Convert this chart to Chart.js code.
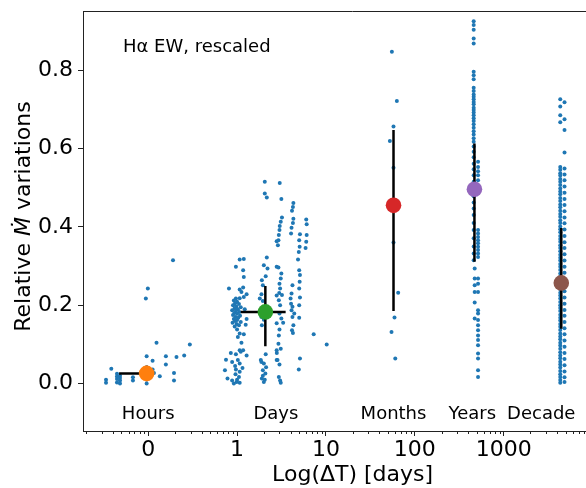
<!DOCTYPE html>
<html><head><meta charset="utf-8">
<script src="https://cdn.jsdelivr.net/npm/chart.js@4"></script>
<style>
html,body{margin:0;padding:0;overflow:hidden;background:#fff;}
#wrap{position:relative;width:630px;height:488px;}
</style></head><body>
<div id="wrap"><canvas id="c" width="630" height="488"></canvas></div>
<script>
// ---------- data ----------
const xMajor = [0.1, 1, 10, 100, 1000];
const xTickLabels = ['0', '1', '10', '100', '1000'];
const yTicks = [0, 0.2, 0.4, 0.6, 0.8];

const catLabels = ['Hours', 'Days', 'Months', 'Years', 'Decade'];
const catX = [0.1, 2.73, 57.6, 444, 2650];
const catY = -0.091;
const annotation = 'H\u03B1 EW, rescaled';
const yTitleParts = ['Relative ', '\u1E40', ' variations'];
const xTitle = 'Log(\u0394T) [days]';

const hoursPts = [[0.0335,0.010],[0.0335,0.002],[0.0384,0.038],[0.0445,0.025],[0.0445,0.012],[0.0445,0.003],[0.0445,0.018],
  [0.0481,0.020],[0.0481,0.008],[0.0481,0.0],[0.0481,0.014],[0.0673,0.008],[0.0673,0.016],[0.096,0.070],[0.096,0.0],
  [0.112,0.058],[0.112,0.036],[0.116,0.027],[0.124,0.104],[0.135,0.019],[0.158,0.070],[0.158,0.049],[0.195,0.008],
  [0.195,0.027],[0.208,0.068],[0.254,0.072],[0.294,0.100],[0.099,0.243],[0.094,0.217],[0.19,0.315]];

const daysPts = [[1.07,.317],[1.19,.318],[0.97,.298],[1.17,.289],[1.19,.272],[0.81,.243],[1.07,.240],[1.17,.245],[1.12,.234],
  [1.28,.228],[1.19,.221],[1.07,.218],[0.97,.217],[0.92,.212],[1.0,.209],[0.95,.205],[1.05,.203],[0.9,.2],[0.98,.197],[1.1,.195],
  [0.94,.192],[1.02,.19],[0.88,.187],[0.97,.185],[1.06,.183],[0.93,.18],[1.0,.178],[0.9,.175],[1.08,.173],[0.96,.17],[1.03,.168],
  [0.92,.165],[1.0,.162],[0.95,.16],[1.1,.157],[0.89,.155],[0.99,.152],[1.05,.149],[0.94,.146],[1.22,.19],[1.28,.165],[1.25,.15],
  [1.0,.138],[1.07,.128],[1.19,.126],[1.02,.119],[1.12,.104],[1.07,.085],[0.85,.078],[0.97,.075],[1.1,.081],[1.17,.085],[1.28,.072],
  [0.75,.061],[0.88,.055],[1.02,.06],[1.07,.051],[0.73,.034],[0.97,.036],[1.07,.03],[0.96,.024],[1.05,.017],[0.78,.013],[0.88,.008],
  [0.99,.004],[0.92,0.0],[1.07,.002],[1.0,.01],[0.95,.045],[1.15,.04],
  [2.05,.515],[2.05,.485],[2.16,.475],[2.16,.322],[2.0,.302],[2.2,.294],[2.1,.274],[1.9,.264],[1.95,.251],[1.88,.228],[1.8,.217],
  [1.95,.211],[1.88,.170],[2.0,.163],[1.9,.149],[2.1,.075],[1.88,.055],[2.0,.051],[2.12,.042],[1.95,.034],[2.08,.026],[1.9,.013],
  [2.0,.004],[1.95,.02],[2.05,.01],[1.85,.06],
  [2.79,.363],[2.79,.298],[2.79,.225],[2.79,.154],[2.79,.085],[2.79,.06],
  [3.02,.512],[3.15,.471],[3.2,.424],[3.1,.413],[3.02,.402],[3.0,.392],[2.95,.379],[2.92,.366],[2.88,.353],[2.92,.296],[3.15,.281],
  [3.1,.268],[3.0,.255],[3.05,.243],[2.98,.231],[3.2,.226],[2.95,.213],[3.05,.2],[3.0,.179],[3.15,.166],[3.3,.155],[3.0,.138],
  [2.95,.123],[2.92,.102],[3.1,.089],[2.8,.078],[2.85,.06],[3.0,.049],[2.95,.017],[3.05,.008],[3.1,.002],
  [4.3,.461],[4.25,.451],[4.15,.441],[4.3,.421],[4.25,.41],[4.1,.398],[4.05,.383],[4.2,.251],[4.1,.23],[4.0,.217],[4.05,.204],
  [4.2,.196],[4.1,.187],[4.4,.179],[4.2,.17],[4.3,.149],[4.15,.136],[4.25,.129],
  [6.0,.419],[6.07,.407],[5.1,.381],[6.07,.379],[5.0,.366],[6.0,.362],[5.06,.349],[5.9,.346],[4.95,.336],[4.85,.317],[5.0,.289],
  [5.1,.277],[5.06,.26],[5.0,.243],[5.1,.22],[5.0,.2],[5.0,.168],[5.1,.064],[4.95,.036],[7.28,.126],[10.2,.1]];

const monthsPts = [[55.2,.847],[62.8,.721],[57.6,.656],[52.4,.619],[57.6,.551],[57.6,.36],[65,.232],[59.1,.169],[54.7,.132],[60.3,.064]];

const yearsLeftY = [.925,.915,.903,.881,.868,.796,.787,.777,.755,.747,.738,.732,.726,.719,.713,.704,.698,.692,.685,.677,.67,.662,
  .653,.644,.636,.626,.617,.605,.592,.578,.561,.547,.532,.515,.478,.462,.447,.43,.41,.392,.371,.35,.332,.315];
const yearsMidY = [.294,.268,.251,.234,.207,.166];
const yearsRightY = [.566,.553,.542,.532,.519,.392,.383,.374,.366,.358,.349,.341,.332,.323,.268,.255,.234,.187,.179,.162,.149,
  .136,.123,.111,.098,.077,.064,.034,.017];
const yearsColX = [460, 472, 515];

const decadeLeftY = [.726,.707,.685,.667,.553,.546,.537,.531,.522,.515,.507,.498,.49,.483,.474,.466,.457,.45,.441,.433,.426,.417,
  .41,.401,.394,.386,.377,.369,.362,.353,.346,.338,.329,.321,.314,.305,.298,.29,.281,.273,.266,.249,.241,.232,.225,.217,.208,.2,
  .193,.185,.176,.168,.161,.152,.145,.137,.128,.12,.113,.104,.097,.089,.08,.072,.065,.056,.049,.041,.032,.024,.017,.009,.002];
const decadeRightY = [.718,.675,.647,.59,.549,.534,.519,.503,.487,.471,.456,.44,.424,.409,.393,.377,.361,.346,.33,.314,.298,
  .283,.267,.251,.236,.22,.204,.188,.173,.157,.141,.126,.11,.094,.078,.063,.047,.031,.016,.004];
const decadeColX = [4335, 4840];

const meanX = [0.096, 2.08, 57.6, 469, 4450];
const meanY = [0.026, 0.183, 0.455, 0.496, 0.257];
const xErrLo = [0.047, 1.10, 57.6, 469, 4450];
const xErrHi = [0.096, 3.52, 57.6, 469, 4450];
const yErrLo = [0.006, 0.095, 0.185, 0.311, 0.140];
const yErrHi = [0.046, 0.249, 0.647, 0.613, 0.397];
const markerColors = ['#ff7f0e', '#2ca02c', '#d62728', '#9467bd', '#8c564b'];

// ---------- build ----------
const toXY = p => ({x: p[0], y: p[1]});
const scatterPts = [].concat(
  hoursPts.map(toXY), daysPts.map(toXY), monthsPts.map(toXY),
  yearsLeftY.map(v => ({x: yearsColX[0], y: v})),
  yearsMidY.map(v => ({x: yearsColX[1], y: v})),
  yearsRightY.map(v => ({x: yearsColX[2], y: v})),
  decadeLeftY.map(v => ({x: decadeColX[0], y: v})),
  decadeRightY.map(v => ({x: decadeColX[1], y: v}))
);

const datasets = [];
meanX.forEach((mx, i) => {
  datasets.push({data: [{x: mx, y: meanY[i]}], pointRadius: 7.8, pointBackgroundColor: markerColors[i],
    pointBorderWidth: 0, order: 1});
});
meanX.forEach((mx, i) => {
  datasets.push({data: [{x: mx, y: yErrLo[i]}, {x: mx, y: yErrHi[i]}], showLine: true, pointRadius: 0,
    borderColor: '#000', borderWidth: 2.5, order: 2});
  if (xErrLo[i] !== xErrHi[i]) {
    datasets.push({data: [{x: xErrLo[i], y: meanY[i]}, {x: xErrHi[i], y: meanY[i]}], showLine: true, pointRadius: 0,
      borderColor: '#000', borderWidth: 2.5, order: 2});
  }
});
datasets.push({data: scatterPts, pointRadius: 2, pointBackgroundColor: '#1f77b4', pointBorderWidth: 0, order: 3});

const FONT = '"DejaVu Sans", sans-serif';

const decor = {
  id: 'decor',
  afterDraw(chart) {
    const {ctx, chartArea: a, scales: {x, y}} = chart;
    ctx.save();
    ctx.strokeStyle = '#222';
    ctx.lineWidth = 1;
    ctx.beginPath();
    ctx.moveTo(a.left, a.top + 0.5); ctx.lineTo(a.right, a.top + 0.5);
    ctx.moveTo(a.right - 0.5, a.top); ctx.lineTo(a.right - 0.5, a.bottom);
    for (let e = -2; e <= 4; e++) {
      for (let m = 2; m <= 9; m++) {
        const v = m * Math.pow(10, e);
        if (v < x.min || v > x.max) continue;
        const px = Math.round(x.getPixelForValue(v)) + 0.5;
        ctx.moveTo(px, a.bottom); ctx.lineTo(px, a.bottom + 3);
      }
    }
    ctx.stroke();
    ctx.fillStyle = '#000';
    ctx.font = '18px ' + FONT;
    ctx.textAlign = 'center';
    ctx.textBaseline = 'alphabetic';
    catLabels.forEach((t, i) => ctx.fillText(t, x.getPixelForValue(catX[i]), y.getPixelForValue(catY)));
    ctx.textAlign = 'left';
    ctx.fillText(annotation, a.left + 40, a.top + 41);
    // y title with italic M-dot
    const fonts = ['22px ' + FONT, 'italic 22px ' + FONT, '22px ' + FONT];
    let widths = yTitleParts.map((t, i) => { ctx.font = fonts[i]; return ctx.measureText(t).width; });
    const total = widths.reduce((s, w) => s + w, 0);
    ctx.translate(24, (a.top + a.bottom) / 2 - 4.5);
    ctx.rotate(-Math.PI / 2);
    ctx.textBaseline = 'middle';
    let cx = -total / 2;
    yTitleParts.forEach((t, i) => { ctx.font = fonts[i]; ctx.fillText(t, cx, 0); cx += widths[i]; });
    ctx.restore();
  }
};

new Chart(document.getElementById('c'), {
  type: 'scatter',
  data: {datasets},
  plugins: [decor],
  options: {
    responsive: false,
    animation: false,
    devicePixelRatio: 1,
    layout: {padding: {top: 11, right: 7, left: 0, bottom: 0}},
    plugins: {legend: {display: false}, tooltip: {enabled: false}},
    scales: {
      x: {
        type: 'logarithmic', position: 'bottom', min: 0.01845, max: 21580, bounds: 'data',
        afterBuildTicks: s => { s.ticks = xMajor.map(v => ({value: v, major: true})); },
        afterFit: s => { s.height = 57; s.paddingLeft = 0; s.paddingRight = 0; },
        ticks: {callback: (v, i) => xTickLabels[i], font: {family: FONT, size: 22}, color: '#000', padding: 1,
          maxRotation: 0, autoSkip: false},
        grid: {display: true, drawOnChartArea: false, drawTicks: true, tickLength: 5, tickColor: '#222', tickWidth: 1},
        border: {display: true, color: '#222', width: 1},
        title: {display: true, text: xTitle, font: {family: FONT, size: 22}, color: '#000',
          padding: {top: 0, bottom: 0}}
      },
      y: {
        type: 'linear', position: 'left', min: -0.121, max: 0.951,
        afterBuildTicks: s => { s.ticks = yTicks.map(v => ({value: v})); },
        afterFit: s => { s.width = 83; s.paddingTop = 0; s.paddingBottom = 0; },
        ticks: {callback: v => Number(v).toFixed(1), font: {family: FONT, size: 22}, color: '#000', padding: 5},
        grid: {display: true, drawOnChartArea: false, drawTicks: true, tickLength: 5, tickColor: '#222', tickWidth: 1},
        border: {display: true, color: '#222', width: 1},
        title: {display: false}
      }
    }
  }
});
</script>
</body></html>
